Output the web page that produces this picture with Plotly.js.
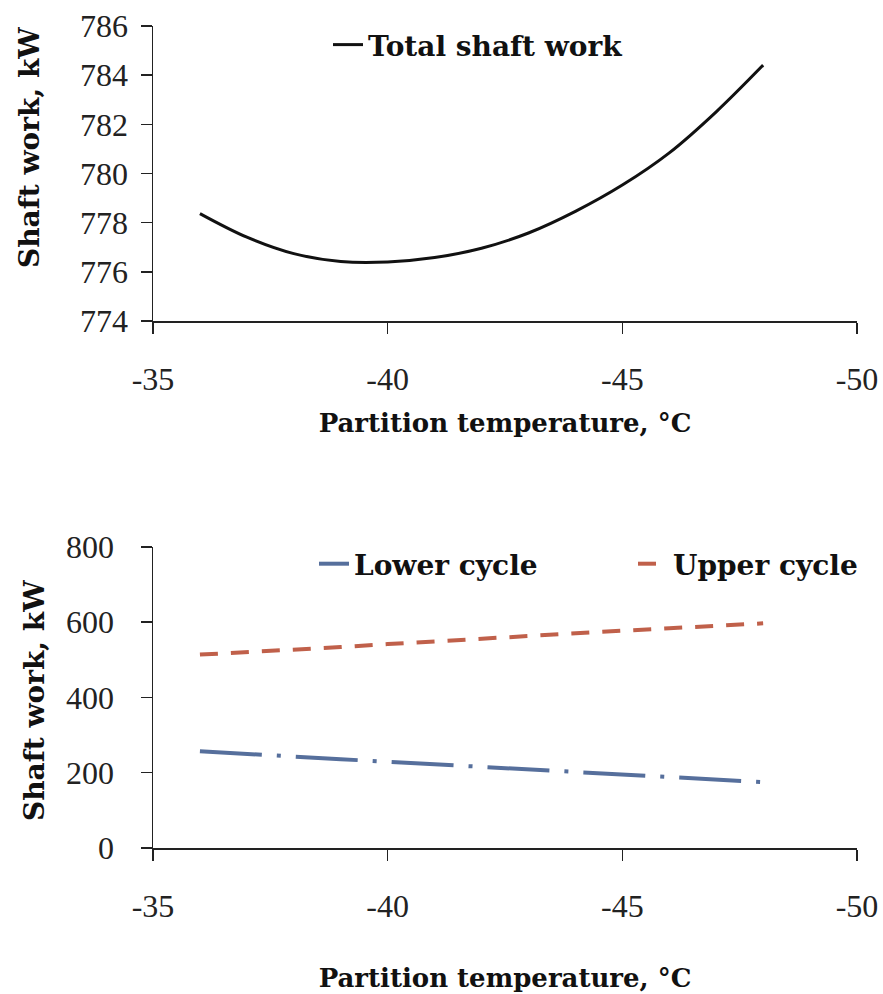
<!DOCTYPE html>
<html>
<head>
<meta charset="utf-8">
<script src="https://cdn.plot.ly/plotly-3.0.1.min.js"></script>
<style>html,body{margin:0;padding:0;background:#fff;}#chart{width:883px;height:994px;}</style>
</head>
<body>
<div id="chart"></div>
<script>
// Partition temperature, °C
const temps = [-36, -37, -38, -39, -40, -41, -42, -43, -44, -45, -46, -47, -48];
// Total shaft work, kW
const totalWork = [778.37, 777.41, 776.74, 776.42, 776.40, 776.58, 776.96, 777.58, 778.46, 779.53, 780.84, 782.51, 784.41];
// Lower cycle shaft work, kW
const lowerWork = [257, 251, 243, 236, 229, 222, 215, 208, 201, 194, 187, 181, 175];
// Upper cycle shaft work, kW
const upperWork = [514, 520, 527, 534, 542, 549.5, 557, 564, 571, 577.5, 584, 590.5, 597];

const xTicks = [-35, -40, -45, -50];
const yTicksTop = [774, 776, 778, 780, 782, 784, 786];
const yTicksBottom = [0, 200, 400, 600, 800];
const xTitle = 'Partition temperature, °C';
const yTitle = 'Shaft work, kW';

const tickFont = {family: 'Liberation Serif', size: 32, color: '#222'};
const titleFont = {family: 'DejaVu Serif, serif', size: 26, color: '#111', weight: 'bold'};
const yTitleFont = {family: 'DejaVu Serif, serif', size: 28, color: '#111', weight: 'bold'};
const legendFont = {family: 'DejaVu Serif, serif', size: 28, color: '#111', weight: 'bold'};

const traces = [
  {x: temps, y: totalWork, type: 'scatter', mode: 'lines', name: 'Total shaft work',
   line: {color: '#111', width: 3, shape: 'spline'}, xaxis: 'x', yaxis: 'y', legend: 'legend'},
  {x: temps, y: lowerWork, type: 'scatter', mode: 'lines', name: 'Lower cycle',
   line: {color: '#566F9C', width: 4, dash: '62px,15px,4px,15px'}, xaxis: 'x2', yaxis: 'y2', legend: 'legend2'},
  {x: temps, y: upperWork, type: 'scatter', mode: 'lines', name: 'Upper cycle',
   line: {color: '#C0604A', width: 4, dash: '18px,13px'}, xaxis: 'x2', yaxis: 'y2', legend: 'legend3'}
];

function xAxis(anchor, titleStandoff) {
  return {
    anchor: anchor, domain: [0, 1], range: [-35, -50], autorange: false,
    tickmode: 'array', tickvals: xTicks, ticktext: xTicks.map(String),
    ticks: 'outside', ticklen: 11, tickwidth: 1.5, tickcolor: '#222',
    showline: true, linecolor: '#222', linewidth: 1.5, showgrid: false, zeroline: false,
    tickfont: tickFont, ticklabelstandoff: 18,
    title: {text: xTitle, font: titleFont, standoff: titleStandoff}
  };
}
function yAxis(anchor, domain, range, ticks, standoff) {
  return {
    anchor: anchor, domain: domain, range: range, autorange: false,
    tickmode: 'array', tickvals: ticks, ticktext: ticks.map(String),
    ticks: 'outside', ticklen: 11, tickwidth: 1.5, tickcolor: '#222',
    showline: true, linecolor: '#222', linewidth: 1.5, showgrid: false, zeroline: false,
    tickfont: tickFont, ticklabelstandoff: standoff
  };
}
function legendAt(x, y) {
  return {x: x, y: y, xanchor: 'left', yanchor: 'middle', bgcolor: 'rgba(0,0,0,0)',
          font: legendFont, orientation: 'v'};
}

const layout = {
  width: 883, height: 994,
  margin: {l: 153, r: 26, t: 26, b: 146},
  paper_bgcolor: '#fff', plot_bgcolor: '#fff',
  xaxis: xAxis('y', 18),
  yaxis: yAxis('x', [0.6411, 1], [774, 786], yTicksTop, 6),
  xaxis2: xAxis('y2', 46),
  yaxis2: yAxis('x2', [0, 0.3662], [0, 800], yTicksBottom, 20),
  annotations: [
    {text: yTitle, xref: 'paper', yref: 'paper', x: -0.1747, y: 0.8516, textangle: -90,
     showarrow: false, font: yTitleFont, xanchor: 'center', yanchor: 'middle'},
    {text: yTitle, xref: 'paper', yref: 'paper', x: -0.169, y: 0.1788, textangle: -90,
     showarrow: false, font: yTitleFont, xanchor: 'center', yanchor: 'middle'}
  ],
  legend: legendAt(0.2486, 0.977),
  legend2: legendAt(0.2287, 0.3455),
  legend3: legendAt(0.6818, 0.3455),
  showlegend: true
};

Plotly.newPlot('chart', traces, layout, {staticPlot: true, displayModeBar: false});
</script>
</body>
</html>
